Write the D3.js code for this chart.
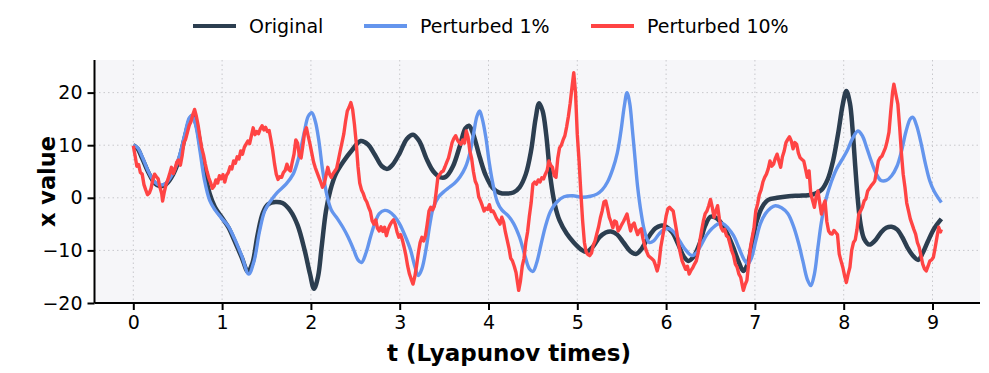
<!DOCTYPE html>
<html>
<head>
<meta charset="utf-8">
<script src="https://cdn.jsdelivr.net/npm/d3@7"></script>
<style>
  body { margin: 0; background: #fff; }
  svg { display: block; font-family: "DejaVu Sans", sans-serif; }
</style>
</head>
<body>
<div id="app"></div>
<script>
// x(t) of the Lorenz system, [t, x] pairs
const original = [
  [0.00,10.0],[0.05,9.3],[0.10,7.5],[0.17,4.8],[0.24,2.8],[0.30,2.2],[0.37,2.6],[0.45,4.5],
  [0.52,7.5],[0.58,11.5],[0.64,15.0],[0.67,15.6],[0.71,14.0],[0.76,9.5],[0.81,4.5],[0.86,0.8],
  [0.92,-1.8],[1.00,-3.8],[1.07,-5.6],[1.14,-8.2],[1.22,-11.3],[1.29,-14.0],[1.34,-12.5],[1.40,-7.0],
  [1.46,-2.8],[1.52,-1.2],[1.60,-0.8],[1.68,-1.0],[1.77,-2.5],[1.85,-5.2],[1.93,-10.0],[1.99,-14.5],
  [2.035,-17.3],[2.08,-15.0],[2.12,-9.5],[2.17,-2.5],[2.22,1.5],[2.28,4.5],[2.37,7.0],[2.46,9.0],
  [2.56,10.8],[2.64,10.2],[2.72,8.2],[2.80,6.0],[2.86,5.5],[2.92,6.3],[3.00,8.5],[3.08,11.2],
  [3.15,12.0],[3.22,10.8],[3.30,7.5],[3.38,5.0],[3.46,3.9],[3.52,4.0],[3.60,6.0],[3.68,10.0],
  [3.74,13.2],[3.78,13.7],[3.83,12.0],[3.90,7.8],[3.97,4.2],[4.05,1.8],[4.12,1.0],[4.20,0.8],
  [4.28,1.0],[4.35,2.0],[4.42,4.5],[4.48,9.0],[4.53,15.0],[4.57,18.0],[4.61,16.5],[4.65,12.0],
  [4.70,3.5],[4.75,-1.5],[4.80,-4.3],[4.88,-6.8],[4.96,-8.5],[5.04,-9.8],[5.10,-10.3],[5.18,-9.2],
  [5.25,-7.5],[5.32,-6.6],[5.38,-6.4],[5.45,-7.0],[5.52,-8.5],[5.60,-10.2],[5.66,-10.7],[5.72,-9.8],
  [5.80,-7.5],[5.88,-5.8],[5.94,-5.3],[6.00,-5.5],[6.07,-6.6],[6.14,-9.0],[6.20,-11.2],[6.25,-12.0],
  [6.31,-11.2],[6.38,-8.6],[6.44,-5.3],[6.50,-3.6],[6.56,-3.8],[6.63,-5.0],[6.70,-7.2],[6.76,-9.6],
  [6.82,-12.3],[6.87,-13.9],[6.92,-12.5],[6.97,-8.5],[7.02,-4.5],[7.08,-1.8],[7.15,-0.4],[7.25,0.0],
  [7.38,0.3],[7.50,0.4],[7.60,0.5],[7.68,0.8],[7.75,1.5],[7.82,3.5],[7.88,7.0],[7.94,12.5],
  [7.99,17.8],[8.03,20.3],[8.07,18.0],[8.10,13.0],[8.13,6.0],[8.16,-0.5],[8.19,-5.0],[8.23,-7.8],
  [8.29,-8.9],[8.35,-8.2],[8.42,-6.6],[8.48,-5.7],[8.54,-5.5],[8.60,-6.0],[8.66,-7.5],[8.72,-9.5],
  [8.78,-11.0],[8.84,-11.8],[8.89,-10.5],[8.95,-8.2],[9.02,-5.8],[9.10,-4.0]
];

const perturbed1 = [
  [0.00,10.0],[0.05,9.5],[0.10,7.8],[0.17,5.0],[0.24,3.0],[0.30,2.4],[0.37,2.8],[0.45,4.8],
  [0.52,8.0],[0.58,12.0],[0.63,15.2],[0.66,15.6],[0.70,14.0],[0.75,9.0],[0.80,3.5],[0.86,-0.5],
  [0.92,-2.3],[1.00,-4.0],[1.07,-5.4],[1.14,-7.8],[1.22,-11.0],[1.30,-14.5],[1.36,-12.0],[1.42,-6.5],
  [1.48,-2.5],[1.55,-0.5],[1.62,1.0],[1.72,2.6],[1.80,4.5],[1.86,7.5],[1.92,12.0],[1.97,15.5],
  [2.01,16.2],[2.05,14.5],[2.09,10.8],[2.13,5.5],[2.18,0.5],[2.23,-2.3],[2.30,-4.0],[2.36,-5.6],
  [2.42,-7.5],[2.48,-9.8],[2.53,-11.8],[2.57,-12.3],[2.62,-10.5],[2.67,-7.5],[2.72,-4.8],[2.77,-3.0],
  [2.83,-2.4],[2.88,-2.6],[2.94,-3.5],[3.00,-5.0],[3.06,-7.2],[3.12,-9.8],[3.17,-13.0],[3.21,-14.8],
  [3.25,-13.5],[3.30,-9.4],[3.34,-5.0],[3.38,-1.8],[3.44,0.2],[3.50,1.2],[3.56,2.0],[3.62,2.8],
  [3.68,4.0],[3.74,5.8],[3.79,8.5],[3.83,12.0],[3.87,15.5],[3.90,16.5],[3.93,15.0],[3.97,11.5],
  [4.01,6.5],[4.05,2.6],[4.10,-0.8],[4.15,-2.3],[4.22,-3.4],[4.28,-4.8],[4.35,-7.5],[4.41,-11.0],
  [4.46,-13.5],[4.50,-14.0],[4.54,-12.5],[4.59,-9.0],[4.64,-5.5],[4.70,-2.5],[4.77,-0.8],[4.85,0.2],
  [4.95,0.4],[5.05,0.1],[5.15,0.3],[5.22,0.7],[5.28,1.5],[5.34,3.0],[5.40,5.5],[5.45,8.5],
  [5.49,12.5],[5.53,17.5],[5.56,20.0],[5.59,18.0],[5.62,13.0],[5.65,7.5],[5.68,2.0],[5.72,-3.0],
  [5.76,-6.5],[5.81,-8.5],[5.86,-8.2],[5.92,-6.9],[5.98,-6.0],[6.04,-5.9],[6.10,-6.8],[6.16,-8.4],
  [6.22,-9.9],[6.29,-11.0],[6.34,-10.5],[6.40,-8.8],[6.46,-7.0],[6.52,-5.8],[6.58,-5.0],[6.64,-4.9],
  [6.70,-5.8],[6.76,-7.2],[6.82,-9.5],[6.88,-11.8],[6.92,-12.6],[6.96,-11.5],[7.01,-8.2],[7.06,-5.0],
  [7.12,-3.0],[7.18,-1.9],[7.23,-1.5],[7.30,-1.9],[7.37,-3.0],[7.43,-5.2],[7.49,-8.5],[7.54,-12.0],
  [7.59,-15.5],[7.63,-16.7],[7.67,-14.5],[7.71,-9.4],[7.75,-4.5],[7.80,-0.3],[7.86,3.0],[7.92,5.5],
  [7.98,7.2],[8.04,9.0],[8.10,11.3],[8.16,12.7],[8.21,11.8],[8.26,9.5],[8.31,7.0],[8.36,4.8],
  [8.42,3.3],[8.48,3.3],[8.54,4.2],[8.60,6.0],[8.65,8.8],[8.70,12.5],[8.75,15.0],[8.78,15.3],
  [8.82,13.8],[8.87,10.5],[8.92,6.5],[8.97,3.2],[9.02,1.2],[9.10,-0.9]
];

const perturbed10 = [
  [0.00,9.9],[0.02,8.0],[0.04,6.0],[0.06,6.3],[0.08,4.8],[0.10,4.5],[0.12,2.5],[0.14,1.5],
  [0.16,0.6],[0.18,0.9],[0.20,1.8],[0.22,3.5],[0.24,4.5],[0.26,4.0],[0.28,3.6],[0.30,2.0],
  [0.32,0.8],[0.33,-0.6],[0.35,1.2],[0.37,2.6],[0.39,3.5],[0.41,4.6],[0.43,5.8],[0.45,4.6],
  [0.47,5.5],[0.49,6.8],[0.51,7.2],[0.53,6.2],[0.55,8.0],[0.57,10.5],[0.59,11.2],[0.61,12.5],
  [0.63,13.8],[0.65,14.5],[0.67,15.8],[0.69,16.8],[0.71,15.5],[0.73,13.8],[0.75,11.5],[0.77,9.5],
  [0.79,8.2],[0.81,6.5],[0.83,5.0],[0.85,3.8],[0.87,2.9],[0.89,1.8],[0.91,2.2],[0.93,3.4],
  [0.95,2.8],[0.97,4.2],[0.99,3.6],[1.01,4.4],[1.03,3.0],[1.05,4.3],[1.07,4.8],[1.09,5.9],
  [1.11,5.5],[1.13,7.0],[1.15,6.6],[1.17,7.8],[1.19,7.4],[1.21,8.9],[1.23,8.3],[1.25,9.6],
  [1.27,10.2],[1.29,10.8],[1.31,10.3],[1.33,11.8],[1.35,13.3],[1.37,12.0],[1.39,12.6],[1.41,12.2],
  [1.43,13.1],[1.45,13.7],[1.47,12.9],[1.49,13.4],[1.51,12.6],[1.53,12.8],[1.55,11.0],[1.57,9.0],
  [1.59,6.5],[1.61,4.5],[1.63,3.5],[1.65,4.0],[1.67,3.9],[1.69,4.8],[1.71,5.2],[1.73,6.4],
  [1.75,5.4],[1.77,5.1],[1.79,6.8],[1.81,8.3],[1.83,11.0],[1.85,10.4],[1.87,8.0],[1.89,7.6],
  [1.91,10.0],[1.93,12.5],[1.95,13.3],[1.97,11.7],[1.99,10.2],[2.01,8.5],[2.03,6.8],[2.05,5.7],
  [2.07,4.8],[2.09,3.9],[2.11,3.0],[2.13,2.0],[2.15,2.6],[2.17,4.2],[2.19,5.8],[2.21,4.5],
  [2.23,3.9],[2.25,4.6],[2.27,5.1],[2.29,5.6],[2.31,7.2],[2.33,8.9],[2.35,10.5],[2.37,12.1],
  [2.39,14.5],[2.41,16.5],[2.43,17.2],[2.45,18.1],[2.47,16.8],[2.49,14.0],[2.51,10.5],[2.53,6.0],
  [2.55,2.8],[2.57,1.5],[2.59,0.8],[2.61,-0.2],[2.63,-0.8],[2.65,-1.8],[2.67,-2.6],[2.69,-4.4],
  [2.71,-5.0],[2.73,-4.2],[2.75,-5.8],[2.77,-6.3],[2.79,-5.5],[2.81,-6.4],[2.83,-5.6],[2.85,-7.2],
  [2.87,-6.0],[2.89,-5.2],[2.91,-4.6],[2.93,-4.2],[2.95,-5.0],[2.97,-6.5],[2.99,-7.5],[3.01,-7.0],
  [3.03,-8.0],[3.05,-9.4],[3.07,-11.0],[3.09,-13.0],[3.11,-14.5],[3.13,-15.5],[3.15,-16.4],[3.17,-15.0],
  [3.19,-12.9],[3.21,-10.5],[3.23,-8.5],[3.25,-7.5],[3.27,-8.2],[3.29,-7.2],[3.31,-5.0],[3.33,-2.5],
  [3.35,-1.8],[3.37,-2.3],[3.39,-1.6],[3.41,1.0],[3.43,3.9],[3.45,4.4],[3.47,4.9],[3.49,5.1],
  [3.51,5.9],[3.53,6.8],[3.55,7.6],[3.57,9.0],[3.59,10.5],[3.61,11.3],[3.63,11.8],[3.65,11.0],
  [3.67,10.5],[3.69,10.2],[3.71,11.0],[3.73,10.4],[3.75,12.7],[3.77,11.5],[3.79,8.9],[3.81,7.5],
  [3.83,5.0],[3.85,3.2],[3.87,2.4],[3.89,0.2],[3.91,-0.6],[3.93,-1.5],[3.95,-2.5],[3.97,-2.0],
  [3.99,-2.2],[4.01,-1.3],[4.03,-2.6],[4.05,-2.5],[4.07,-3.1],[4.09,-3.9],[4.11,-4.4],[4.13,-5.0],
  [4.15,-3.7],[4.17,-4.6],[4.19,-6.5],[4.21,-8.0],[4.23,-9.5],[4.25,-11.5],[4.27,-12.0],[4.29,-13.0],
  [4.31,-14.2],[4.33,-16.5],[4.34,-17.6],[4.36,-15.8],[4.38,-13.0],[4.40,-11.5],[4.42,-8.5],[4.44,-6.5],
  [4.46,-3.5],[4.48,-1.0],[4.50,2.6],[4.52,3.0],[4.54,2.6],[4.56,3.4],[4.58,3.0],[4.60,3.8],
  [4.62,3.6],[4.64,4.5],[4.66,5.2],[4.68,7.0],[4.70,6.2],[4.72,5.8],[4.74,4.2],[4.76,3.9],
  [4.78,7.5],[4.80,9.5],[4.82,10.0],[4.84,11.0],[4.86,11.8],[4.88,13.5],[4.90,15.5],[4.92,18.0],
  [4.94,21.0],[4.96,23.8],[4.98,20.0],[5.00,12.0],[5.02,7.0],[5.04,1.0],[5.06,-4.4],[5.08,-8.5],
  [5.10,-10.3],[5.12,-10.8],[5.14,-11.0],[5.16,-10.5],[5.18,-9.0],[5.20,-8.2],[5.22,-6.8],[5.24,-5.5],
  [5.26,-3.8],[5.28,-2.5],[5.30,-0.8],[5.32,-0.6],[5.34,-2.0],[5.36,-3.7],[5.38,-4.6],[5.40,-5.7],
  [5.42,-4.4],[5.44,-4.6],[5.46,-6.3],[5.48,-5.8],[5.50,-5.1],[5.52,-4.5],[5.54,-3.8],[5.56,-3.1],
  [5.58,-4.8],[5.60,-6.3],[5.62,-5.2],[5.64,-4.8],[5.66,-6.0],[5.68,-7.0],[5.70,-6.2],[5.72,-5.9],
  [5.74,-7.8],[5.76,-9.1],[5.78,-10.2],[5.80,-11.0],[5.82,-11.3],[5.84,-11.6],[5.86,-11.9],[5.88,-12.8],
  [5.90,-13.9],[5.92,-12.5],[5.94,-9.4],[5.96,-7.5],[5.98,-5.6],[6.00,-3.5],[6.02,-2.1],[6.04,-1.8],
  [6.06,-2.2],[6.08,-2.5],[6.10,-4.5],[6.12,-6.5],[6.14,-8.8],[6.16,-10.5],[6.18,-12.0],[6.20,-12.8],
  [6.22,-13.6],[6.24,-13.0],[6.26,-14.5],[6.28,-13.8],[6.30,-13.3],[6.32,-12.6],[6.34,-12.0],[6.36,-10.5],
  [6.38,-8.2],[6.40,-6.2],[6.42,-4.4],[6.44,-3.0],[6.46,-2.5],[6.48,-1.5],[6.50,-0.3],[6.52,-1.8],
  [6.54,-3.7],[6.56,-2.5],[6.58,-1.5],[6.60,-4.0],[6.62,-5.7],[6.64,-6.3],[6.66,-6.0],[6.68,-7.2],
  [6.70,-7.5],[6.72,-8.8],[6.74,-10.1],[6.76,-11.0],[6.78,-12.6],[6.80,-13.2],[6.82,-14.5],[6.84,-15.1],
  [6.86,-16.8],[6.87,-17.6],[6.89,-16.5],[6.91,-15.7],[6.93,-12.5],[6.95,-9.4],[6.97,-7.5],[6.99,-5.7],
  [7.01,-2.5],[7.03,-1.2],[7.05,0.6],[7.07,1.5],[7.09,3.0],[7.11,3.9],[7.13,4.5],[7.15,5.5],
  [7.17,7.0],[7.19,6.0],[7.21,6.4],[7.23,7.5],[7.25,8.3],[7.27,7.0],[7.29,5.8],[7.31,7.8],
  [7.33,8.9],[7.35,10.5],[7.37,11.1],[7.39,11.6],[7.41,10.8],[7.43,9.3],[7.45,10.5],[7.47,10.2],
  [7.49,8.5],[7.51,7.6],[7.53,7.3],[7.55,7.0],[7.57,5.5],[7.59,3.9],[7.61,5.1],[7.63,0.7],
  [7.65,-0.5],[7.67,-1.8],[7.69,0.2],[7.71,1.3],[7.73,-1.0],[7.75,-3.1],[7.77,-1.5],[7.79,-0.6],
  [7.81,-4.5],[7.83,-6.3],[7.85,-6.8],[7.87,-6.9],[7.89,-6.2],[7.91,-6.6],[7.93,-7.0],[7.95,-10.7],
  [7.97,-12.0],[7.99,-13.2],[8.01,-14.8],[8.03,-16.1],[8.05,-14.5],[8.07,-13.2],[8.09,-10.0],[8.11,-8.5],
  [8.13,-8.0],[8.15,-6.0],[8.17,-3.1],[8.19,-2.5],[8.21,-1.8],[8.23,-0.6],[8.25,-0.2],[8.27,1.3],
  [8.29,1.8],[8.31,2.3],[8.33,2.7],[8.35,3.2],[8.37,5.0],[8.39,7.0],[8.41,7.6],[8.43,7.9],
  [8.45,8.7],[8.47,9.5],[8.49,10.8],[8.51,12.5],[8.53,16.5],[8.55,20.0],[8.565,21.6],[8.59,19.5],
  [8.61,17.8],[8.63,13.5],[8.65,8.5],[8.67,4.5],[8.69,2.0],[8.71,-1.0],[8.73,-2.5],[8.75,-4.0],
  [8.77,-5.0],[8.79,-6.0],[8.81,-6.9],[8.83,-8.5],[8.85,-9.4],[8.87,-11.0],[8.89,-12.6],[8.91,-13.5],
  [8.93,-13.9],[8.95,-13.0],[8.97,-12.0],[8.99,-11.8],[9.01,-11.3],[9.03,-9.5],[9.05,-7.5],[9.07,-5.6],
  [9.09,-6.5],[9.10,-6.0]
];

const seriesNames = ["Original", "Perturbed 1%", "Perturbed 10%"];
const seriesColors = ["#2c3e50", "#6495ed", "#ff4444"];
const xTicks = [0, 1, 2, 3, 4, 5, 6, 7, 8, 9];
const yTicks = [-20, -10, 0, 10, 20];

const width = 989, height = 373;
const margin = {top: 60, right: 9, bottom: 70, left: 94.5};

const svg = d3.select("#app").append("svg")
  .attr("width", width)
  .attr("height", height);

const x = d3.scaleLinear().domain([-0.437, 9.535]).range([margin.left, width - margin.right]);
const y = d3.scaleLinear().domain([-20, 26.2]).range([height - margin.bottom, margin.top]);

// plot background
svg.append("rect")
  .attr("x", x.range()[0])
  .attr("y", margin.top)
  .attr("width", x.range()[1] - x.range()[0])
  .attr("height", y.range()[0] - margin.top)
  .attr("fill", "#f6f6f9");

// grid
svg.append("g")
  .selectAll("line")
  .data(xTicks)
  .enter()
  .append("line")
  .attr("x1", d => x(d)).attr("x2", d => x(d))
  .attr("y1", margin.top).attr("y2", y.range()[0])
  .attr("stroke", "#c8c8cc").attr("stroke-width", 1).attr("stroke-dasharray", "1.5,3");

svg.append("g")
  .selectAll("line")
  .data(yTicks)
  .enter()
  .append("line")
  .attr("x1", x.range()[0]).attr("x2", x.range()[1])
  .attr("y1", d => y(d)).attr("y2", d => y(d))
  .attr("stroke", "#c8c8cc").attr("stroke-width", 1).attr("stroke-dasharray", "1.5,3");

// lines
const smooth = d3.line().x(d => x(d[0])).y(d => y(d[1])).curve(d3.curveCatmullRom.alpha(0.5));
const jagged = d3.line().x(d => x(d[0])).y(d => y(d[1]));

svg.append("path").datum(original)
  .attr("d", smooth).attr("fill", "none")
  .attr("stroke", seriesColors[0]).attr("stroke-width", 4.5).attr("stroke-linejoin", "round");

svg.append("path").datum(perturbed1)
  .attr("d", smooth).attr("fill", "none")
  .attr("stroke", seriesColors[1]).attr("stroke-width", 3.4).attr("stroke-linejoin", "round");

svg.append("path").datum(perturbed10)
  .attr("d", jagged).attr("fill", "none")
  .attr("stroke", seriesColors[2]).attr("stroke-width", 3.4).attr("stroke-linejoin", "round");

// axes
const xAxis = svg.append("g")
  .attr("transform", `translate(0,${y.range()[0]})`)
  .call(d3.axisBottom(x).tickValues(xTicks).tickSize(7).tickPadding(6).tickFormat(d3.format("d")));

const yAxis = svg.append("g")
  .attr("transform", `translate(${x.range()[0]},0)`)
  .call(d3.axisLeft(y).tickValues(yTicks).tickSize(7).tickPadding(5).tickFormat(d => d < 0 ? "\u2212" + Math.abs(d) : d));

[xAxis, yAxis].forEach(a => {
  a.select(".domain").attr("stroke", "#000").attr("stroke-width", 2);
  a.selectAll(".tick line").attr("stroke", "#000").attr("stroke-width", 2);
  a.selectAll(".tick text").attr("fill", "#000").style("font-size", "19px").style("font-family", "DejaVu Sans");
});
xAxis.select(".domain").attr("d", `M${x.range()[0]},0H${x.range()[1]}`);
yAxis.select(".domain").attr("d", `M0,${y.range()[0]}V${margin.top}`);

// axis labels
svg.append("text")
  .attr("x", 509)
  .attr("y", 361)
  .attr("text-anchor", "middle")
  .style("font-size", "23px")
  .style("font-weight", "bold")
  .text("t (Lyapunov times)");

svg.append("text")
  .attr("transform", `translate(55,${(margin.top + y.range()[0]) / 2}) rotate(-90)`)
  .attr("text-anchor", "middle")
  .style("font-size", "22.5px")
  .style("font-weight", "bold")
  .text("x value");

// legend
const legendX = [193, 364, 591];
const legend = svg.append("g").attr("class", "legend");
legend.selectAll("line")
  .data(seriesNames)
  .enter()
  .append("line")
  .attr("x1", (d, i) => legendX[i]).attr("x2", (d, i) => legendX[i] + 43)
  .attr("y1", 26).attr("y2", 26)
  .attr("stroke", (d, i) => seriesColors[i]).attr("stroke-width", 4);
legend.selectAll("text")
  .data(seriesNames)
  .enter()
  .append("text")
  .attr("x", (d, i) => legendX[i] + 56)
  .attr("y", 26)
  .attr("dy", "0.35em")
  .style("font-size", "19px")
  .text(d => d);
</script>
</body>
</html>
